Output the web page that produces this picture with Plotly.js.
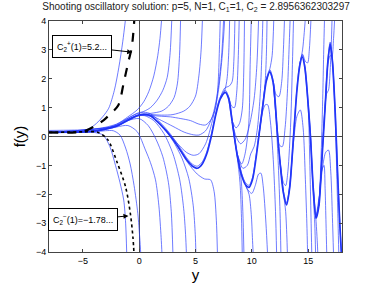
<!DOCTYPE html>
<html><head><meta charset="utf-8">
<script src="https://cdn.plot.ly/plotly-3.0.1.min.js"></script>
<style>html,body{margin:0;padding:0;background:#fff}#c{width:377px;height:283px}</style>
</head><body><div id="c"></div>
<script>
// ---- data (x = y-coordinate, y = f(y)) ----
const xTicks = [-5, 0, 5, 10, 15];
const yTicks = [-4, -3, -2, -1, 0, 1, 2, 3, 4];

const mainSol = [[-8,0.14],[-6,0.15],[-5,0.16],[-4,0.19],[-3,0.25],[-2,0.36],[-1,0.56],[-0.3,0.7],[0.4,0.77],[1.0,0.72],[1.6,0.52],[2.2,0.28],[2.8,0.0],[3.5,-0.38],[4.2,-0.8],[4.7,-1.02],[5.15,-1.1],[5.6,-0.95],[6.0,-0.6],[6.4,0.0],[6.8,0.75],[7.2,1.3],[7.65,1.53],[7.95,1.3],[8.26,0.5],[8.7,-0.65],[9.1,-1.35],[9.45,-1.68],[9.75,-1.76],[10.05,-1.5],[10.35,-0.8],[10.62,0.0],[11.0,1.15],[11.3,1.95],[11.6,2.24],[11.9,1.85],[12.25,0.2],[12.5,-0.9],[12.8,-1.95],[13.08,-2.37],[13.35,-1.8],[13.7,0.0],[14.0,1.6],[14.25,2.45],[14.47,2.76],[14.7,2.4],[15.0,1.1],[15.2,0.0],[15.45,-1.8],[15.7,-2.83],[15.95,-2.4],[16.2,-0.9],[16.5,1.0],[16.75,2.6],[16.95,3.2],[17.15,2.6],[17.4,0.8],[17.6,-1.2],[17.8,-3.0],[17.95,-4.1]];

const cPlus  = [[-8,0.14],[-5,0.17],[-3.9,0.37],[-3.14,0.57],[-2.55,0.78],[-1.85,1.08],[-1.35,1.9],[-0.95,2.6],[-0.65,3.1],[-0.42,4.1]];
const cMinus = [[-8,0.14],[-5,0.16],[-3.7,0.15],[-2.8,-0.1],[-1.95,-0.9],[-1.2,-1.75],[-0.77,-2.7],[-0.55,-3.5],[-0.45,-4.1]];

const up1  = [[-8,0.14],[-5.5,0.17],[-4.5,0.26],[-3.8,0.45],[-3.2,0.7],[-2.7,0.98],[-2.2,1.6],[-1.8,2.4],[-1.45,3.3],[-1.2,4.1]];
const up2  = [[-8,0.14],[-4,0.2],[-3,0.28],[-2,0.42],[-1,0.68],[-0.18,0.92],[0.4,1.2],[0.85,1.55],[1.3,2.1],[1.65,2.8],[1.85,3.4],[2.0,4.1]];
const up3  = [[-8,0.14],[-4,0.2],[-3,0.27],[-2,0.4],[-1,0.63],[-0.2,0.8],[0.41,0.87],[1.0,1.0],[1.6,1.26],[2.1,1.6],[2.49,2.05],[2.75,2.9],[2.9,4.1]];
const up4  = [[-8,0.14],[-4,0.19],[-3,0.26],[-2,0.38],[-1,0.6],[0,0.76],[1.0,0.8],[2.0,0.88],[2.6,1.05],[3.1,1.35],[3.4,1.85],[3.58,2.8],[3.68,4.1]];
const up5  = [[-8,0.14],[-2,0.37],[-1,0.58],[0,0.75],[1.0,0.76],[2.0,0.74],[3.0,0.76],[3.96,0.88],[4.5,1.05],[5.0,1.4],[5.3,2.1],[5.5,3.0],[5.62,4.1]];
const up6  = [[-8,0.14],[-2,0.36],[-1,0.57],[0,0.75],[1.0,0.73],[2.0,0.7],[2.78,0.68],[3.7,0.62],[4.56,0.55],[5.3,0.43],[5.9,0.4],[6.4,0.6],[6.78,1.0],[7.0,1.8],[7.12,3.0],[7.2,4.1]];
const up7  = [[0.4,0.77],[1.2,0.7],[2.0,0.55],[3.0,0.35],[4.0,0.15],[4.8,0.06],[5.3,0.05],[5.9,0.2],[6.5,0.7],[6.95,1.5],[7.3,2.7],[7.5,4.1]];
const up8  = [[1.6,0.52],[2.4,0.22],[3.3,-0.2],[4.2,-0.55],[4.8,-0.65],[5.3,-0.6],[5.9,-0.25],[6.5,0.55],[7.0,1.5],[7.35,2.7],[7.6,4.1]];
const up9  = [[7.2,1.3],[7.6,1.6],[7.8,2.0],[7.95,2.9],[8.03,4.1]];
const up10 = [[7.2,1.35],[7.6,1.68],[8.0,1.75],[8.25,1.9],[8.4,2.6],[8.5,4.1]];
const up11 = [[7.65,1.55],[7.95,1.35],[8.2,1.05],[8.45,1.0],[8.65,1.5],[8.8,2.8],[8.88,4.1]];
const up12 = [[7.95,1.3],[8.26,0.55],[8.6,0.3],[8.9,0.45],[9.15,0.95],[9.28,2.2],[9.35,4.1]];
const up13 = [[8.26,0.5],[8.7,-0.6],[9.1,-0.95],[9.4,-0.6],[9.73,0.46],[9.85,2.5],[9.95,4.1]];
const up14 = [[8.7,-0.6],[9.2,-1.1],[9.6,-1.0],[9.9,-0.6],[10.2,-0.35],[10.5,0.3],[10.75,1.5],[10.9,3.0],[10.98,4.1]];
const up15 = [[8.26,0.5],[8.6,0.0],[9.0,-0.25],[9.4,-0.1],[9.8,0.4],[10.2,1.3],[10.45,2.5],[10.6,4.1]];
const up16 = [[10.62,0.0],[11.0,1.15],[11.2,2.0],[11.3,3.0],[11.35,4.1]];
const up17 = [[11.3,1.95],[11.6,2.35],[11.8,2.8],[11.95,4.1]];
const up18 = [[11.6,2.24],[11.9,1.9],[12.15,1.45],[12.4,1.38],[12.65,1.9],[12.8,3.0],[12.9,4.1]];
const up19 = [[11.9,1.85],[12.2,0.5],[12.45,-0.3],[12.7,-0.35],[12.95,0.3],[13.15,1.5],[13.3,3.0],[13.4,4.1]];
const up20 = [[12.5,-0.8],[12.8,-1.6],[13.0,-1.7],[13.2,-1.2],[13.45,0.5],[13.6,2.5],[13.7,4.1]];
const up21 = [[14.25,2.5],[14.5,2.85],[14.75,2.6],[14.95,2.55],[15.1,3.0],[15.25,4.1]];
const up22 = [[14.25,2.5],[14.5,3.0],[14.65,3.6],[14.75,4.1]];
const up23 = [[15.7,-2.8],[15.95,-2.3],[16.15,-0.6],[16.3,1.5],[16.38,3.0],[16.45,4.1]];
const up24 = [[15.95,-2.4],[16.2,-0.9],[16.45,0.8],[16.65,1.5],[16.8,1.6],[16.95,2.3],[17.05,3.2],[17.12,4.1]];
const up25 = [[16.5,1.0],[16.75,2.5],[16.95,2.8],[17.1,2.76],[17.25,3.4],[17.35,4.1]];

const dn1  = [[-8,0.14],[-5,0.15],[-4,0.14],[-3.2,0.05],[-2.6,-0.35],[-2.1,-1.0],[-1.7,-1.6],[-1.37,-2.2],[-1.2,-3.0],[-1.1,-4.1]];
const dn2  = [[-8,0.14],[-4,0.16],[-3,0.2],[-2.3,0.2],[-1.7,0.05],[-1.2,-0.4],[-0.8,-0.95],[-0.45,-1.7],[-0.12,-2.66],[0.05,-3.5],[0.15,-4.1]];
const dn3  = [[-8,0.14],[-4,0.17],[-2,0.33],[-1,0.38],[-0.18,0.17],[0.56,-0.47],[1.0,-0.9],[1.45,-1.5],[1.75,-2.4],[1.95,-3.5],[2.03,-4.1]];
const dn4  = [[-8,0.14],[-2,0.36],[-1,0.55],[0,0.62],[0.8,0.38],[1.5,-0.1],[2.1,-0.7],[2.6,-1.6],[2.85,-2.6],[3.0,-4.1]];
const dn5  = [[-1,0.56],[0,0.72],[0.5,0.72],[1.3,0.55],[2.2,0.1],[3.0,-0.6],[3.6,-1.5],[3.95,-2.5],[4.12,-3.4],[4.2,-4.1]];
const dn6  = [[0,0.73],[1,0.7],[2,0.38],[3,-0.15],[3.8,-0.75],[4.4,-1.45],[4.8,-2.4],[4.98,-3.4],[5.04,-4.1]];
const dn7  = [[3.5,-0.38],[4.3,-0.9],[5.15,-1.3],[5.8,-1.47],[6.33,-1.5],[6.65,-1.9],[6.85,-2.9],[6.95,-4.1]];
const dn8  = [[8.26,0.5],[8.7,-0.7],[8.95,-1.6],[9.08,-2.8],[9.15,-4.1]];
const dn9  = [[8.7,-0.65],[9.05,-1.5],[9.2,-2.6],[9.3,-4.1]];
const dn10 = [[9.45,-1.72],[9.75,-1.9],[10.0,-1.97],[10.3,-1.7],[10.6,-1.3],[10.8,-1.27],[11.0,-1.7],[11.25,-3.0],[11.4,-4.1]];
const dn11 = [[9.45,-1.7],[9.75,-2.0],[9.95,-2.7],[10.05,-3.5],[10.12,-4.1]];
const dn12 = [[10.62,0.0],[10.95,0.85],[11.2,1.1],[11.4,1.1],[11.65,0.5],[11.9,-0.8],[12.1,-2.6],[12.2,-4.1]];
const dn13 = [[11.9,1.85],[12.15,0.6],[12.35,-1.0],[12.5,-2.6],[12.58,-4.1]];
const dn14 = [[12.5,-0.9],[12.8,-1.95],[13.0,-2.6],[13.1,-3.4],[13.16,-4.1]];
const dn15 = [[13.08,-2.37],[13.35,-1.8],[13.7,-0.2],[14.0,0.7],[14.3,0.92],[14.55,0.3],[14.75,-1.5],[14.88,-3.0],[14.95,-4.1]];
const dn16 = [[14.7,2.4],[15.0,1.0],[15.15,-1.0],[15.25,-2.8],[15.32,-4.1]];
const dn17 = [[15.0,1.1],[15.2,0.0],[15.42,-1.8],[15.58,-3.0],[15.66,-4.1]];
const dn18 = [[15.45,-1.8],[15.7,-2.95],[15.8,-3.6],[15.86,-4.1]];
const dn19 = [[15.7,-2.8],[16.0,-2.0],[16.3,-1.0],[16.55,-0.55],[16.8,-0.47],[17.0,-1.2],[17.15,-2.8],[17.25,-4.1]];
const dn20 = [[16.95,3.2],[17.15,2.6],[17.4,0.6],[17.55,-1.5],[17.65,-3.0],[17.72,-4.1]];
const dn21 = [[15.95,-2.4],[16.2,-1.2],[16.4,-1.0],[16.5,-1.8],[16.58,-3.0],[16.65,-4.1]];

const family = [up1,up2,up3,up4,up5,up6,up7,up8,up9,up10,up11,up12,up13,up14,up15,up16,up17,up18,up19,up20,up21,up22,up23,up24,up25,
                dn1,dn2,dn3,dn4,dn5,dn6,dn7,dn8,dn9,dn10,dn11,dn12,dn13,dn14,dn15,dn16,dn17,dn18,dn19,dn20,dn21];

// ---- build traces ----
const traces = [];
const blue = 'rgba(40,60,255,0.85)';
family.forEach(c => traces.push({
  x: c.map(p => p[0]), y: c.map(p => p[1]), type: 'scatter', mode: 'lines',
  line: {color: blue, width: 0.8, shape: 'spline', smoothing: 0.8}, hoverinfo: 'skip', showlegend: false
}));
traces.push({x: mainSol.map(p=>p[0]), y: mainSol.map(p=>p[1]), type:'scatter', mode:'lines',
  line:{color:'rgb(30,50,245)', width:1.7, shape:'spline', smoothing:0.8}, showlegend:false});
traces.push({x: mainSol.map(p=>p[0]), y: mainSol.map(p=>p[1]+0.07), type:'scatter', mode:'lines',
  line:{color:blue, width:0.8, shape:'spline', smoothing:0.8}, showlegend:false});
traces.push({x: cPlus.map(p=>p[0]), y: cPlus.map(p=>p[1]), type:'scatter', mode:'lines',
  line:{color:'#000', width:2.2, dash:'dash', shape:'spline', smoothing:0.8}, showlegend:false});
traces.push({x: cMinus.map(p=>p[0]), y: cMinus.map(p=>p[1]), type:'scatter', mode:'lines',
  line:{color:'#000', width:1.6, dash:'dot', shape:'spline', smoothing:0.8}, showlegend:false});

const font = 'Liberation Sans, Arial, Helvetica, sans-serif';
const layout = {
  width: 377, height: 283,
  margin: {l: 49, r: 35, t: 21, b: 31},
  paper_bgcolor: '#fff', plot_bgcolor: '#fff',
  font: {family: font, size: 9, color: '#000'},
  title: {text: 'Shooting oscillatory solution: p=5, N=1, C<sub>1</sub>=1, C<sub>2</sub> = 2.8956362303297',
          font: {family: font, size: 10, color: '#222'}, x: 0.52, xanchor: 'center', y: 0.99, yanchor: 'top'},
  xaxis: {range: [-8, 18], tickvals: xTicks, ticks: 'inside', ticklen: 3, tickcolor: '#444',
          showline: true, linecolor: '#444', linewidth: 1, mirror: 'ticks', showgrid: false,
          zeroline: true, zerolinecolor: '#555', zerolinewidth: 1,
          tickfont: {size: 9, family: font}, title: {text: 'y', font: {size: 15, family: font}, standoff: 0}},
  yaxis: {range: [-4, 4], tickvals: yTicks, ticks: 'inside', ticklen: 3, tickcolor: '#444',
          showline: true, linecolor: '#444', linewidth: 1, mirror: 'ticks', showgrid: false,
          zeroline: true, zerolinecolor: '#555', zerolinewidth: 1,
          tickfont: {size: 9, family: font}, title: {text: 'f(y)', font: {size: 15, family: font}, standoff: 6}},
  annotations: [
    {x: -0.62, y: 2.92, xref: 'x', yref: 'y', ax: -5.04, ay: 3.11, axref: 'x', ayref: 'y',
     text: 'C<sub>2</sub><sup>+</sup>(1)=5.2...', showarrow: true, arrowhead: 2, arrowsize: 1, arrowwidth: 1,
     arrowcolor: '#000', bgcolor: '#fff', bordercolor: '#000', borderwidth: 1, borderpad: 4,
     font: {size: 9, family: font, color: '#000'}},
    {x: -0.95, y: -2.75, xref: 'x', yref: 'y', ax: -4.99, ay: -2.89, axref: 'x', ayref: 'y',
     text: 'C<sub>2</sub><sup>−</sup>(1)=−1.78...', showarrow: true, arrowhead: 2, arrowsize: 1, arrowwidth: 1,
     arrowcolor: '#000', bgcolor: '#fff', bordercolor: '#000', borderwidth: 1, borderpad: 4,
     font: {size: 9, family: font, color: '#000'}}
  ]
};
Plotly.newPlot('c', traces, layout, {staticPlot: true, displayModeBar: false});
</script></body></html>
